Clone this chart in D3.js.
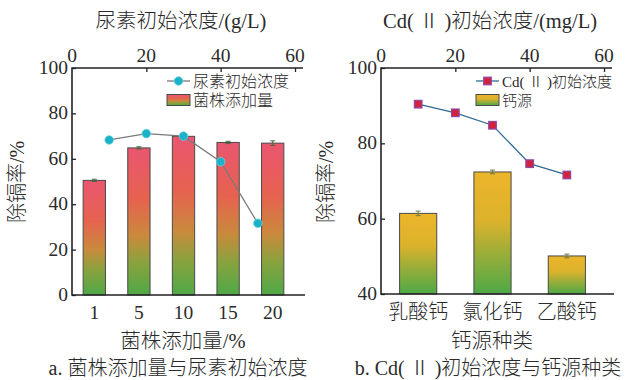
<!DOCTYPE html>
<html>
<head>
<meta charset="utf-8">
<script src="https://cdn.jsdelivr.net/npm/d3@7"></script>
<style>
  html, body { margin: 0; padding: 0; background: #fff; }
  svg { display: block; }
  text { font-family: "Liberation Serif", "Noto Sans CJK SC", serif; fill: #2a2a2a; font-weight: 300; }
</style>
</head>
<body>
<svg id="chart" width="630" height="380"></svg>
<script>
// Panel a: strain dosage (bars) and urea initial concentration (line)
const strainCats = ["1", "5", "10", "15", "20"];
const strainRemoval = [50.5, 64.8, 69.9, 67.2, 66.9];
const strainErr = [0.5, 0.5, 0.3, 0.5, 1.0];
const ureaConc = [10, 20, 30, 40, 50];
const ureaRemoval = [68.3, 71.1, 70.0, 58.7, 31.6];

// Panel b: calcium source (bars) and Cd(II) initial concentration (line)
const calciumCats = ["乳酸钙", "氯化钙", "乙酸钙"];
const calciumRemoval = [61.4, 72.4, 50.1];
const calciumErr = [0.6, 0.5, 0.5];
const cdConc = [10, 20, 30, 40, 50];
const cdRemoval = [90.4, 88.1, 84.8, 74.6, 71.6];

const topTicks = [0, 20, 40, 60];
const yTicksA = [0, 20, 40, 60, 80, 100];
const yTicksB = [40, 60, 80, 100];

const svg = d3.select("#chart");
const defs = svg.append("defs");

function gradient(id, stops) {
  const g = defs.append("linearGradient").attr("id", id)
    .attr("x1", 0).attr("y1", 0).attr("x2", 0).attr("y2", 1);
  stops.forEach(([o, c]) => g.append("stop").attr("offset", o).attr("stop-color", c));
}
gradient("gradRed", [[0, "#ea5670"], [0.35, "#e6624f"], [0.6, "#c98a3c"], [0.78, "#8aa23e"], [1, "#4ea947"]]);
gradient("gradGold", [[0, "#ecb52a"], [0.4, "#dcb22c"], [0.7, "#93ad3a"], [1, "#4ea947"]]);

function panel(o) {
  const g = svg.append("g");
  const x = d3.scaleBand().domain(o.cats).range([o.left, o.left + 223])
    .paddingInner(0.5).paddingOuter(0.25);
  const xTop = d3.scaleLinear().domain([0, 60]).range([o.left, o.left + 223]);
  const y = d3.scaleLinear().domain(o.yDomain).range([o.bottom, 68]);

  // bars
  g.selectAll("rect.bar").data(o.cats).join("rect")
    .attr("x", d => x(d))
    .attr("y", (d, i) => y(o.values[i]))
    .attr("width", x.bandwidth())
    .attr("height", (d, i) => y(o.yDomain[0]) - y(o.values[i]))
    .attr("fill", `url(#${o.grad})`)
    .attr("stroke", "#4a4a4a").attr("stroke-width", 1);

  // error bars
  o.cats.forEach((c, i) => {
    const cx = x(c) + x.bandwidth() / 2;
    const y1 = y(o.values[i] + o.err[i]), y2 = y(o.values[i] - o.err[i]);
    g.append("line").attr("x1", cx).attr("x2", cx).attr("y1", y1).attr("y2", y2)
      .attr("stroke", o.errColor).attr("stroke-width", 1);
    [y1, y2].forEach(yy => g.append("line").attr("x1", cx - 2.5).attr("x2", cx + 2.5)
      .attr("y1", yy).attr("y2", yy).attr("stroke", o.errColor).attr("stroke-width", 1));
  });

  // line series on the top scale
  const line = d3.line().x((d, i) => xTop(o.lineX[i])).y(d => y(d));
  g.append("path").datum(o.lineY).attr("d", line)
    .attr("fill", "none").attr("stroke", o.lineColor).attr("stroke-width", 1.3);
  if (o.marker === "circle") {
    g.selectAll("circle.pt").data(o.lineY).join("circle")
      .attr("cx", (d, i) => xTop(o.lineX[i])).attr("cy", d => y(d)).attr("r", 4.3)
      .attr("fill", "#19b2c9").attr("stroke", "#6fd0dc").attr("stroke-width", 0.8);
  } else {
    g.selectAll("rect.pt").data(o.lineY).join("rect")
      .attr("x", (d, i) => xTop(o.lineX[i]) - 3.8).attr("y", d => y(d) - 3.8)
      .attr("width", 7.6).attr("height", 7.6)
      .attr("fill", "#d4213c").attr("stroke", "#8a4aa8").attr("stroke-width", 1.2);
  }

  // axes
  const axL = g.append("g").attr("transform", `translate(${o.left},0)`)
    .call(d3.axisRight(y).tickValues(o.yTicks).tickSize(4).tickFormat(""));
  axL.select(".domain").remove();
  g.selectAll("text.ytick").data(o.yTicks).join("text")
    .attr("x", o.left - 4).attr("y", d => y(d) + 6)
    .attr("text-anchor", "end").attr("font-size", 19.5).text(d => d);

  const axT = g.append("g").attr("transform", `translate(0,68)`)
    .call(d3.axisBottom(xTop).tickValues(topTicks).tickSize(4).tickFormat(""));
  axT.select(".domain").remove();
  axT.selectAll(".tick").filter(d => d === 0).remove();
  g.selectAll("text.ttick").data(topTicks).join("text")
    .attr("x", d => xTop(d)).attr("y", 62)
    .attr("text-anchor", "middle").attr("font-size", 19.5).text(d => d);

  g.selectAll("text.xtick").data(o.cats).join("text")
    .attr("x", d => x(d) + x.bandwidth() / 2).attr("y", 319)
    .attr("text-anchor", "middle").attr("font-size", o.catFont).text(d => d);

  // frame lines: left, top, bottom
  const right = o.left + 231;
  g.append("path").attr("d", `M${right},68H${o.left}V${o.bottom}H${right + 2}`)
    .attr("fill", "none").attr("stroke", "#222").attr("stroke-width", 1.6);
  g.selectAll(".tick line").attr("stroke", "#222").attr("stroke-width", 1.3);

  // titles
  g.append("text").attr("x", o.left + 109).attr("y", 28).attr("text-anchor", "middle")
    .attr("font-size", 20.5).text(o.topTitle);
  g.append("text").attr("x", o.left + 111).attr("y", 348).attr("text-anchor", "middle")
    .attr("font-size", 20.5).text(o.xTitle);
  g.append("text").attr("x", o.captionX).attr("y", 375).attr("text-anchor", "middle")
    .attr("font-size", 20).text(o.caption);
  g.append("text").attr("transform", `translate(${o.left - 48},${182}) rotate(-90)`)
    .attr("text-anchor", "middle").attr("font-size", 20).text("除镉率/%");

  // legend
  const lx = o.left + 95;
  g.append("line").attr("x1", lx).attr("x2", lx + 23).attr("y1", 81).attr("y2", 81)
    .attr("stroke", o.lineColor).attr("stroke-width", 1.3);
  if (o.marker === "circle") {
    g.append("circle").attr("cx", lx + 11.5).attr("cy", 81).attr("r", 4.3)
      .attr("fill", "#19b2c9").attr("stroke", "#6fd0dc").attr("stroke-width", 0.8);
  } else {
    g.append("rect").attr("x", lx + 7.7).attr("y", 77.2).attr("width", 7.6).attr("height", 7.6)
      .attr("fill", "#d4213c").attr("stroke", "#8a4aa8").attr("stroke-width", 1.2);
  }
  g.append("text").attr("x", lx + 26).attr("y", 86.5).attr("font-size", o.legendFont).text(o.lineLabel);
  g.append("rect").attr("x", lx).attr("y", 94.5).attr("width", 23).attr("height", 11)
    .attr("fill", `url(#${o.grad})`).attr("stroke", "#4a4a4a").attr("stroke-width", 1);
  g.append("text").attr("x", lx + 26).attr("y", 105.5).attr("font-size", o.legendFont).text(o.barLabel);
}

panel({
  left: 72, bottom: 295, cats: strainCats, values: strainRemoval, err: strainErr,
  yDomain: [0, 100], yTicks: yTicksA, grad: "gradRed", errColor: "#3f6e3a",
  lineX: ureaConc, lineY: ureaRemoval, lineColor: "#7a7a7a", marker: "circle",
  topTitle: "尿素初始浓度/(g/L)", xTitle: "菌株添加量/%", catFont: 19.5,
  caption: "a. 菌株添加量与尿素初始浓度", captionX: 178, legendFont: 16,
  lineLabel: "尿素初始浓度", barLabel: "菌株添加量"
});

panel({
  left: 381, bottom: 294, cats: calciumCats, values: calciumRemoval, err: calciumErr,
  yDomain: [40, 100], yTicks: yTicksB, grad: "gradGold", errColor: "#6b7e4a",
  lineX: cdConc, lineY: cdRemoval, lineColor: "#2f6c92", marker: "square",
  topTitle: "Cd( Ⅱ )初始浓度/(mg/L)", xTitle: "钙源种类", catFont: 20,
  caption: "b. Cd( Ⅱ )初始浓度与钙源种类", captionX: 488, legendFont: 15,
  lineLabel: "Cd( Ⅱ )初始浓度", barLabel: "钙源"
});
</script>
</body>
</html>
